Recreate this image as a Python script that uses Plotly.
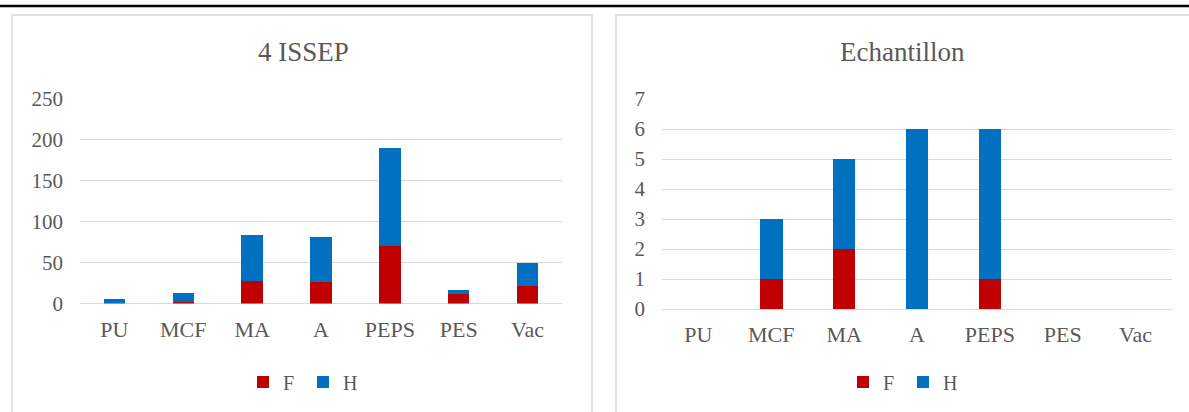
import plotly.graph_objects as go

categories = ["PU", "MCF", "MA", "A", "PEPS", "PES", "Vac"]
issep_F = [0, 2, 28, 26, 70, 12, 22]
issep_H = [5, 11, 56, 55, 120, 5, 27]
ech_F = [0, 1, 2, 0, 1, 0, 0]
ech_H = [0, 2, 3, 6, 5, 0, 0]
issep_ticks = [0, 50, 100, 150, 200, 250]
ech_ticks = [0, 1, 2, 3, 4, 5, 6, 7]

W, H = 1189, 412
RED = "#C00000"
BLUE = "#0070C0"
GRID = "#D9D9D9"
TXT = "#595959"
FONT = "Liberation Serif"

def px(x):
    return x / W

def py(y):
    return 1 - y / H

fig = go.Figure()
fig.add_trace(go.Bar(x=categories, y=issep_F, name="F", marker=dict(color=RED, line=dict(width=0)),
                     xaxis="x", yaxis="y", legend="legend"))
fig.add_trace(go.Bar(x=categories, y=issep_H, name="H", marker=dict(color=BLUE, line=dict(width=0)),
                     xaxis="x", yaxis="y", legend="legend"))
fig.add_trace(go.Bar(x=categories, y=ech_F, name="F", marker=dict(color=RED, line=dict(width=0)),
                     xaxis="x2", yaxis="y2", legend="legend2"))
fig.add_trace(go.Bar(x=categories, y=ech_H, name="H", marker=dict(color=BLUE, line=dict(width=0)),
                     xaxis="x2", yaxis="y2", legend="legend2"))

xfont = dict(family=FONT, size=22, color=TXT)
yfont = dict(family=FONT, size=21, color=TXT)
common_x = dict(showgrid=False, zeroline=False, showline=False, ticks="", tickfont=xfont,
                ticklabelstandoff=10, fixedrange=True, automargin=False)
common_y = dict(showgrid=True, gridcolor=GRID, gridwidth=1, zeroline=True, zerolinecolor=GRID,
                zerolinewidth=1, showline=False, ticks="", tickfont=yfont, ticklabelstandoff=16,
                fixedrange=True, automargin=False)

leg_common = dict(orientation="h", xanchor="center", yanchor="middle", traceorder="normal",
                  font=dict(family=FONT, size=20, color=TXT), itemwidth=30,
                  entrywidth=15, entrywidthmode="pixels", bgcolor="rgba(0,0,0,0)")

fig.update_layout(
    width=W, height=H,
    margin=dict(l=0, r=0, t=0, b=0, pad=0, autoexpand=False),
    paper_bgcolor="white", plot_bgcolor="white",
    barmode="stack", bargap=0.69,
    font=dict(family=FONT, color=TXT),
    xaxis=dict(domain=[px(80), px(562)], anchor="y", **common_x),
    yaxis=dict(domain=[py(303.5), py(99)], anchor="x", range=[0, 250], tickvals=issep_ticks, **common_y),
    xaxis2=dict(domain=[px(662), px(1172)], anchor="y2", **common_x),
    yaxis2=dict(domain=[py(309), py(99)], anchor="x2", range=[0, 7], tickvals=ech_ticks, **common_y),
    legend=dict(x=px(303), y=py(382), **leg_common),
    legend2=dict(x=px(903), y=py(382), **leg_common),
    showlegend=True,
)

# chart frames and top rule
fig.add_shape(type="line", xref="paper", yref="paper", x0=0, x1=1, y0=py(6), y1=py(6),
              line=dict(color="black", width=2.5))
fig.add_shape(type="rect", xref="paper", yref="paper", x0=px(12), x1=px(592), y0=py(15), y1=py(420),
              line=dict(color=GRID, width=1.5))
fig.add_shape(type="rect", xref="paper", yref="paper", x0=px(616), x1=px(1200), y0=py(15), y1=py(420),
              line=dict(color=GRID, width=1.5))

fig.add_annotation(text="4 ISSEP", xref="paper", yref="paper", x=px(303), y=py(52), showarrow=False,
                   xanchor="center", yanchor="middle", font=dict(family=FONT, size=27, color=TXT))
fig.add_annotation(text="Echantillon", xref="paper", yref="paper", x=px(902), y=py(52), showarrow=False,
                   xanchor="center", yanchor="middle", font=dict(family=FONT, size=27, color=TXT))

fig.write_html("out.html", config={"displayModeBar": False, "staticPlot": True},
               post_script="document.body.style.margin='0';document.body.style.overflow='hidden';")
